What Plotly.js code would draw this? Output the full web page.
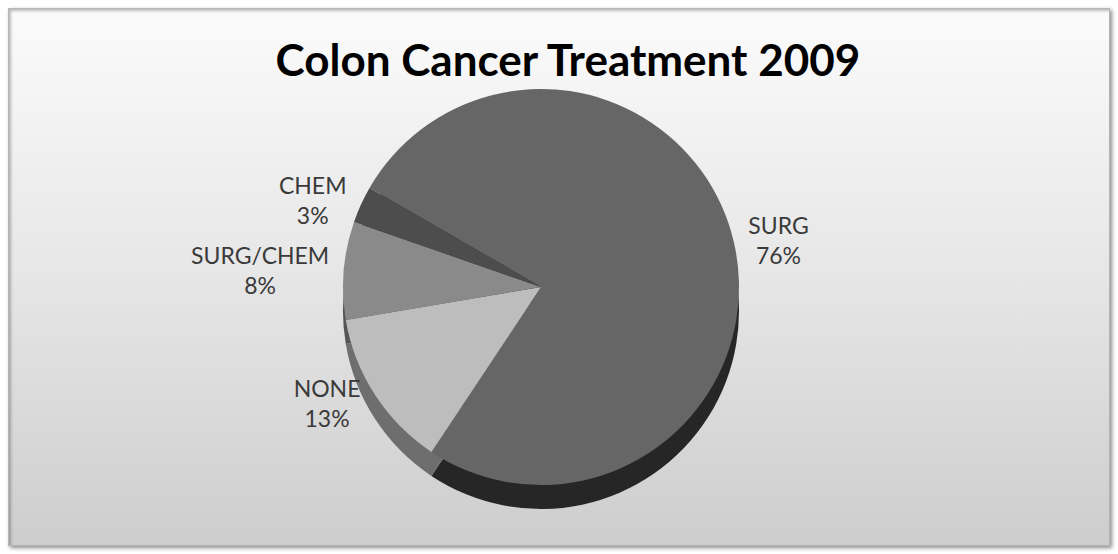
<!DOCTYPE html>
<html>
<head>
<meta charset="utf-8">
<script src="https://cdn.plot.ly/plotly-3.0.1.min.js"></script>
<style>
  html, body { margin: 0; padding: 0; background: #ffffff; }
  #frame {
    position: absolute; left: 8px; top: 8px; width: 1100px; height: 536px;
    background: linear-gradient(to bottom, #fbfbfb 0%, #e7e7e7 48%, #cdcdcd 100%);
    border: 1px solid #b5b5b5;
    box-shadow: 2px 2px 4px rgba(0,0,0,0.45), inset 2px 2px 3px rgba(0,0,0,0.25);
  }
  #chart { position: absolute; left: 0; top: 0; width: 1118px; height: 554px; }
</style>
</head>
<body>
<div id="frame"></div>
<div id="chart"></div>
<script>
const categories = ["SURG", "NONE", "SURG/CHEM", "CHEM"];
const values = [76, 13, 8, 3];
const topColors = ["#666666", "#bdbdbd", "#8a8a8a", "#4d4d4d"];
const sideColors = ["#262626", "#6e6e6e", "#555555", "#333333"];
const chartTitle = "Colon Cancer Treatment 2009";

const W = 1118, H = 554;
const cx = 541, cy = 287, r = 198, depth = 24;
function dom(centerY) {
  return {
    x: [(cx - r) / W, (cx + r) / W],
    y: [(H - centerY - r) / H, (H - centerY + r) / H]
  };
}

const sideTrace = {
  type: "pie",
  labels: categories,
  values: values,
  sort: false,
  direction: "clockwise",
  rotation: -60,
  domain: dom(cy + depth),
  marker: { colors: sideColors, line: { width: 0 } },
  textinfo: "none",
  hoverinfo: "skip",
  showlegend: false
};

const topTrace = {
  type: "pie",
  labels: categories,
  values: values,
  sort: false,
  direction: "clockwise",
  rotation: -60,
  domain: dom(cy),
  marker: { colors: topColors, line: { width: 0 } },
  textinfo: "label+percent",
  texttemplate: "%{label}<br>%{percent:.0%}",
  textposition: "outside",
  outsidetextfont: { family: "Lato, 'Open Sans', sans-serif", size: 23, color: "#3a3a3a" },
  showlegend: false
};

const layout = {
  width: W, height: H,
  margin: { l: 0, r: 0, t: 0, b: 0 },
  paper_bgcolor: "rgba(0,0,0,0)",
  plot_bgcolor: "rgba(0,0,0,0)",
  showlegend: false,
  title: {
    text: "<b>" + chartTitle + "</b>",
    font: { family: "Lato, 'Open Sans', sans-serif", size: 44, color: "#000000" },
    x: 0.508, xanchor: "center",
    y: 0.863, yanchor: "bottom"
  }
};

Plotly.newPlot("chart", [sideTrace, topTrace], layout, { displayModeBar: false, staticPlot: true });
</script>
</body>
</html>
